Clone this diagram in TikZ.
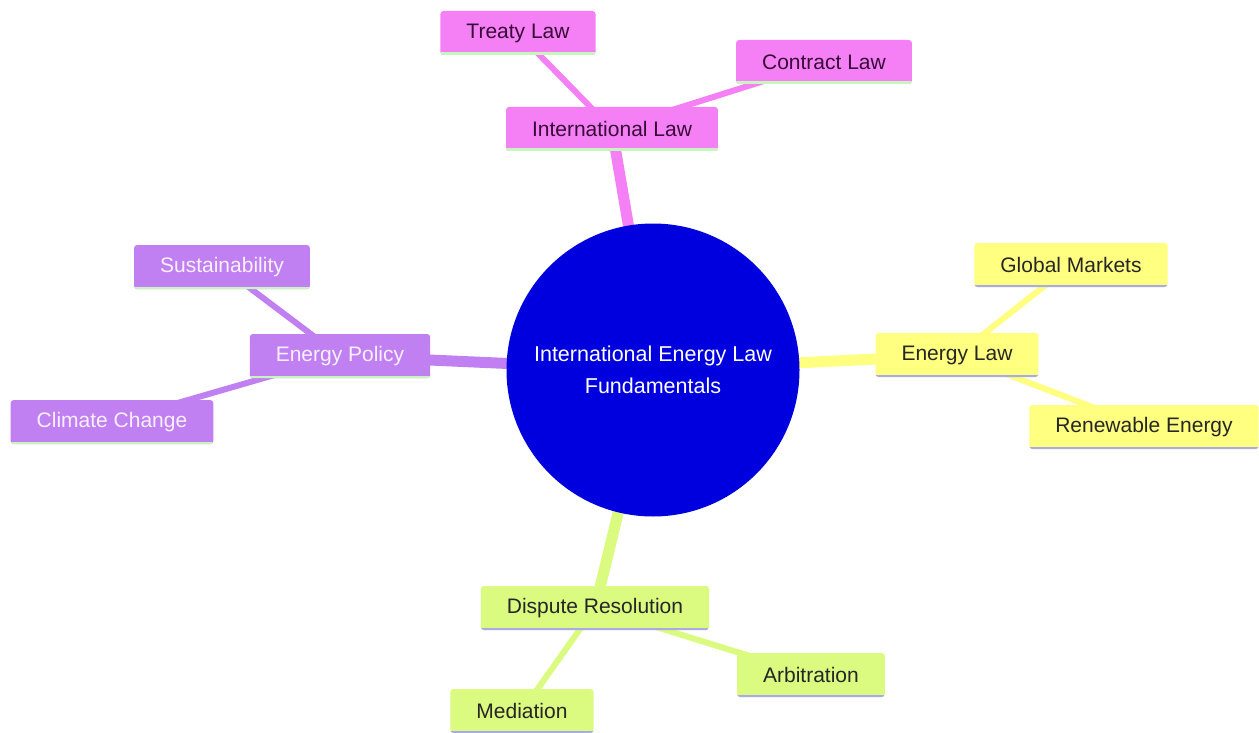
\documentclass[tikz,border=0pt]{standalone}
\usepackage{fontspec}
\setmainfont{Liberation Sans}
\usetikzlibrary{positioning, backgrounds}

\definecolor{rootblue}{RGB}{0,0,222}
\definecolor{pinkfill}{RGB}{245,128,245}
\definecolor{pinktext}{RGB}{55,10,55}
\definecolor{purplefill}{RGB}{192,128,242}
\definecolor{purpletext}{RGB}{248,240,255}
\definecolor{yellowfill}{RGB}{255,255,128}
\definecolor{limefill}{RGB}{218,250,128}
\definecolor{greenline}{RGB}{200,245,190}
\definecolor{lavline}{RGB}{170,170,230}

\tikzset{underline/.style={path picture={\draw[line width=5pt, #1] (path picture bounding box.south west) -- (path picture bounding box.south east);}}}
\tikzstyle{root} = [circle, fill=rootblue, text=white, minimum size=293pt, align=center, font=\fontsize{21.5}{32}\selectfont]
\tikzstyle{leaf} = [rectangle, rounded corners=3pt, minimum height=44pt, inner xsep=26pt, font=\fontsize{21}{25}\selectfont]
\tikzstyle{pinkbox} = [leaf, fill=pinkfill, text=pinktext, underline=greenline]
\tikzstyle{purplebox} = [leaf, fill=purplefill, text=purpletext, underline=greenline]
\tikzstyle{yellowbox} = [leaf, fill=yellowfill, text=black!85, underline=lavline]
\tikzstyle{limebox} = [leaf, fill=limefill, text=black!85, underline=lavline]
\tikzstyle{branch} = [line width=11pt]
\tikzstyle{twig} = [line width=6pt]

\begin{document}
\begin{tikzpicture}[x=1pt, y=-1pt]

\useasboundingbox (0,0) rectangle (1259,733);

%Nodes
\node (root) [root] at (653,370) {International Energy Law\\Fundamentals};
\node (intl) [pinkbox] at (612,129) {International Law};
\node (treaty) [pinkbox] at (518,33) {Treaty Law};
\node (contract) [pinkbox] at (824,62) {Contract Law};
\node (policy) [purplebox] at (340,356) {Energy Policy};
\node (sustain) [purplebox] at (222,267) {Sustainability};
\node (climate) [purplebox] at (112,422) {Climate Change};
\node (elaw) [yellowbox] at (957,355) {Energy Law};
\node (markets) [yellowbox] at (1071,265) {Global Markets};
\node (renew) [yellowbox] at (1144,427) {Renewable Energy};
\node (dispute) [limebox] at (595,608) {Dispute Resolution};
\node (arbit) [limebox] at (811,675) {Arbitration};
\node (mediat) [limebox] at (522,711) {Mediation};

%Edges
\begin{pgfonlayer}{background}
\fill [white] (0,0) rectangle (1259,733);
\draw [branch, pinkfill] (root.center) -- (intl.center);
\draw [twig, pinkfill] (intl.center) -- (treaty.center);
\draw [twig, pinkfill] (intl.center) -- (contract.center);
\draw [branch, purplefill] (root.center) -- (policy.center);
\draw [twig, purplefill] (policy.center) -- (sustain.center);
\draw [twig, purplefill] (policy.center) -- (climate.center);
\draw [branch, yellowfill] (root.center) -- (elaw.center);
\draw [twig, yellowfill] (elaw.center) -- (markets.center);
\draw [twig, yellowfill] (elaw.center) -- (renew.center);
\draw [branch, limefill] (root.center) -- (dispute.center);
\draw [twig, limefill] (dispute.center) -- (arbit.center);
\draw [twig, limefill] (dispute.center) -- (mediat.center);
\end{pgfonlayer}

\end{tikzpicture}
\end{document}
